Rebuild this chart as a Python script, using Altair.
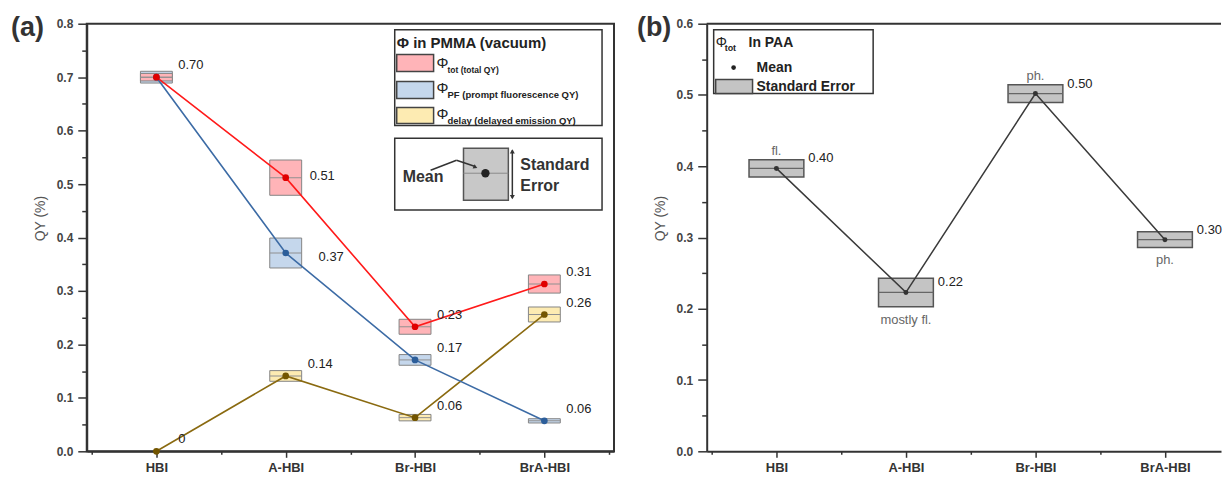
import json
import altair as alt
import pandas as pd

FONT = "Liberation Sans"

# ---------------- data ----------------
cats = ["HBI", "A-HBI", "Br-HBI", "BrA-HBI"]

# panel (a): PMMA (vacuum)
series_names = ["delay", "PF", "tot"]
tot_mean = [0.700, 0.512, 0.233, 0.313]
tot_se = [0.007, 0.033, 0.014, 0.017]
tot_lab = ["0.70", "0.51", "0.23", "0.31"]
pf_mean = [0.700, 0.371, 0.171, 0.057]
pf_se = [0.011, 0.028, 0.010, 0.004]
pf_lab = ["", "0.37", "0.17", "0.06"]
delay_mean = [0.000, 0.141, 0.063, 0.256]
delay_se = [0.000, 0.010, 0.006, 0.014]
delay_lab = ["0", "0.14", "0.06", "0.26"]

# panel (b): PAA
paa_mean = [0.397, 0.223, 0.502, 0.297]
paa_se = [0.012, 0.020, 0.0125, 0.011]
paa_lab = ["0.40", "0.22", "0.50", "0.30"]
paa_note = ["fl.", "mostly fl.", "ph.", "ph."]
paa_note_side = ["above", "below", "above", "below"]

# ---------------- tables ----------------
rows_a = []
for s, m, se, lab in zip(series_names,
                         [delay_mean, pf_mean, tot_mean],
                         [delay_se, pf_se, tot_se],
                         [delay_lab, pf_lab, tot_lab]):
    for i, c in enumerate(cats):
        rows_a.append(dict(series=s, cat=c, idx=i + 0.5, mean=m[i],
                           lo=m[i] - se[i], hi=m[i] + se[i], se=se[i], label=lab[i]))
df_a = pd.DataFrame(rows_a)

df_b = pd.DataFrame(dict(cat=cats, idx=[i + 0.5 for i in range(len(cats))],
                         mean=paa_mean,
                         lo=[m - s for m, s in zip(paa_mean, paa_se)],
                         hi=[m + s for m, s in zip(paa_mean, paa_se)],
                         label=paa_lab, note=paa_note, side=paa_note_side))

# ---------------- layout constants ----------------
W_A, H = 529, 429
W_B = 516
STEP_B = 132.5

fill_scale = alt.Scale(domain=["tot", "PF", "delay"], range=["#FFB4B8", "#C5D7EC", "#FDEBB2"])
line_scale = alt.Scale(domain=["tot", "PF", "delay"], range=["#FF1A1A", "#3C6BA5", "#8A6A10"])
pt_scale = alt.Scale(domain=["tot", "PF", "delay"], range=["#E00000", "#2C5E9A", "#735500"])


def y_axis(maxv):
    vals = [round(i * 0.05, 2) for i in range(int(round(maxv / 0.05)) + 1)]
    return alt.Axis(
        values=vals,
        labelExpr="round(datum.value*20) % 2 == 0 ? format(datum.value, '.1f') : ''",
        tickSize={"condition": {"test": "round(datum.value*20) % 2 == 1", "value": 5}, "value": 9},
        title="QY (%)", titleFont=FONT, titleFontSize=14, titleFontWeight="normal",
        titleColor="#555", titleY=195, titlePadding=9,
        labelFont=FONT, labelFontSize=12, labelFontWeight="bold", labelColor="#444",
        labelPadding=5, labelOverlap=False,
        domainColor="#333", domainWidth=2, tickColor="#333", tickWidth=1.5, grid=False)


def x_axis(nvals):
    vals = [i * 0.5 for i in range(nvals)]
    expr = "round(datum.value*2) % 2 == 1 ? " + json.dumps(cats) + "[floor(datum.value)] : ''"
    return alt.Axis(
        values=vals, labelExpr=expr, title=None, grid=False, labelOverlap=False,
        tickSize={"condition": {"test": "round(datum.value*2) % 2 == 1", "value": 6}, "value": 3},
        labelFont=FONT, labelFontSize=13, labelFontWeight="bold", labelColor="#333",
        labelPadding=4, labelFlush=False,
        domainColor="#333", domainWidth=2, tickColor="#333", tickWidth=1.5)


one = pd.DataFrame({"k": [0]})


def prect(x1, x2, y1, y2, fill, stroke, sw=1.5):
    return alt.Chart(one).mark_rect(fill=fill, stroke=stroke, strokeWidth=sw).encode(
        x=alt.value(x1), x2=alt.value(x2), y=alt.value(y1), y2=alt.value(y2))


def ptext(x, y, txt, size, weight="bold", color="#222", align="left"):
    return alt.Chart(one).mark_text(text=txt, fontSize=size, fontWeight=weight, color=color,
                                    align=align, baseline="middle", font=FONT).encode(
        x=alt.value(x), y=alt.value(y))


def prule(x1, y1, x2, y2, color="#333", sw=1.5):
    return alt.Chart(one).mark_rule(color=color, strokeWidth=sw).encode(
        x=alt.value(x1), y=alt.value(y1), x2=alt.value(x2), y2=alt.value(y2))


def ppoint(x, y, shape, size, color, angle=0):
    return alt.Chart(one).mark_point(shape=shape, size=size, filled=True, color=color,
                                     opacity=1, angle=angle, strokeWidth=0).encode(
        x=alt.value(x), y=alt.value(y))


# ---------------- panel (a) ----------------
xa_scale = alt.Scale(domain=[0, 4], nice=False, zero=False)
ya_scale = alt.Scale(domain=[0, 0.8], nice=False, zero=True)
xa = alt.X("idx:Q", scale=xa_scale, axis=x_axis(9))
ya_ax = y_axis(0.8)
ya = alt.Y("mean:Q", scale=ya_scale, axis=ya_ax)

base_a = alt.Chart(df_a)
boxes_a = base_a.transform_filter("datum.se > 0").mark_bar(
    width=32, stroke="#858585", strokeWidth=1).encode(
    x=xa, y=alt.Y("lo:Q", scale=ya_scale, axis=ya_ax), y2="hi:Q",
    fill=alt.Fill("series:N", scale=fill_scale, legend=None))
mid_a = base_a.transform_filter("datum.se > 0").mark_tick(
    orient="horizontal", size=32, thickness=1, color="#909090", opacity=1).encode(x=xa, y=ya)
lines_a = base_a.mark_line(strokeWidth=1.6).encode(
    x=xa, y=ya, stroke=alt.Stroke("series:N", scale=line_scale, legend=None), order="idx:Q")
pts_a = base_a.mark_circle(size=45, opacity=1).encode(
    x=xa, y=ya, color=alt.Color("series:N", scale=pt_scale, legend=None))

txt_kw = dict(align="left", baseline="middle", font=FONT, fontSize=13, color="#222")
lab_main = base_a.transform_filter(
    "datum.label != '' && !(datum.series == 'tot' && datum.cat == 'A-HBI') && !(datum.series == 'PF' && datum.cat == 'A-HBI')"
).mark_text(dx=22, dy=-12, **txt_kw).encode(x=xa, y=ya, text="label:N")
lab_51 = base_a.transform_filter("datum.series == 'tot' && datum.cat == 'A-HBI'").mark_text(
    dx=24, dy=-2, **txt_kw).encode(x=xa, y=ya, text="label:N")
lab_37 = base_a.transform_filter("datum.series == 'PF' && datum.cat == 'A-HBI'").mark_text(
    dx=33, dy=4, **txt_kw).encode(x=xa, y=ya, text="label:N")

# legend (a)
leg_a = [
    prect(309, 517, 6, 102, "white", "#333"),
    ptext(311, 19, "Φ in PMMA (vacuum)", 15),
    prect(311, 348, 31, 48, "#FFB4B8", "#444"),
    prect(311, 348, 58, 75, "#C5D7EC", "#444"),
    prect(311, 348, 84, 100, "#FDEBB2", "#444"),
    ptext(351, 39, "Φ", 15, weight="normal"),
    ptext(362, 46, "tot (total QY)", 8.5),
    ptext(351, 65, "Φ", 15, weight="normal"),
    ptext(362, 72, "PF (prompt fluorescence QY)", 9.5),
    ptext(351, 91, "Φ", 15, weight="normal"),
    ptext(362, 98, "delay (delayed emission QY)", 9.5),
    prect(309, 517, 115, 187, "white", "#333"),
    prect(378, 423, 125, 177, "#C8C8C8", "#555"),
    prule(378, 150, 423, 150, color="#8a8a8a", sw=1),
    ppoint(400, 150, "circle", 70, "#222"),
    ptext(317, 154, "Mean", 16, color="#333"),
    prule(345, 147, 371, 137, color="#333", sw=1.5),
    prule(371, 137, 389, 143, color="#333", sw=1.5),
    ppoint(390, 144, "triangle-right", 22, "#333", angle=25),
    prule(427, 127, 427, 175, color="#333", sw=1.5),
    ppoint(427, 128, "triangle-up", 25, "#333"),
    ppoint(427, 174, "triangle-down", 25, "#333"),
    ptext(435, 142, "Standard", 16, color="#333"),
    ptext(435, 163, "Error", 16, color="#333"),
    ptext(-76, 4, "(a)", 27, color="#333"),
]

panel_a = alt.layer(boxes_a, mid_a, lines_a, pts_a, lab_main, lab_51, lab_37, *leg_a).properties(
    width=W_A, height=H, view=alt.ViewBackground(stroke="#333", strokeWidth=2))

# ---------------- panel (b) ----------------
xb_scale = alt.Scale(domain=[0, W_B / STEP_B], nice=False, zero=False)
yb_scale = alt.Scale(domain=[0, 0.6], nice=False, zero=True)
xb = alt.X("idx:Q", scale=xb_scale, axis=x_axis(8))
yb_ax = y_axis(0.6)
yb = alt.Y("mean:Q", scale=yb_scale, axis=yb_ax)

base_b = alt.Chart(df_b)
boxes_b = base_b.mark_bar(width=55, fill="#C4C4C4", stroke="#555", strokeWidth=1.5).encode(
    x=xb, y=alt.Y("lo:Q", scale=yb_scale, axis=yb_ax), y2="hi:Q")
mid_b = base_b.mark_tick(orient="horizontal", size=55, thickness=1.2, color="#666", opacity=1).encode(
    x=xb, y=yb)
line_b = base_b.mark_line(strokeWidth=1.5, color="#3a3a3a").encode(x=xb, y=yb, order="idx:Q")
pts_b = base_b.mark_circle(size=25, color="#333", opacity=1).encode(x=xb, y=yb)
lab_b = base_b.mark_text(dx=32, dy=-10, **txt_kw).encode(x=xb, y=yb, text="label:N")
note_kw = dict(align="center", baseline="middle", font=FONT, fontSize=13, color="#666")
note_up = base_b.transform_filter("datum.side == 'above'").mark_text(dy=-9, **note_kw).encode(
    x=xb, y=alt.Y("hi:Q", scale=yb_scale, axis=yb_ax), text="note:N")
note_dn = base_b.transform_filter("datum.side == 'below'").mark_text(dy=13, **note_kw).encode(
    x=xb, y=alt.Y("lo:Q", scale=yb_scale, axis=yb_ax), text="note:N")

leg_b = [
    prule(0, 0, W_B, 0, color="#333", sw=2),
    prect(7, 167, 6, 70, "white", "#333"),
    ptext(9, 19, "Φ", 14, weight="normal"),
    ptext(18, 24, "tot", 9),
    ptext(42, 19, "In PAA", 14),
    ppoint(27, 44, "circle", 22, "#222"),
    ptext(50, 44, "Mean", 14),
    prect(9, 46, 56, 70, "#C4C4C4", "#444"),
    ptext(50, 64, "Standard Error", 14),
    ptext(-70, 4, "(b)", 27, color="#333"),
]

panel_b = alt.layer(boxes_b, mid_b, line_b, pts_b, lab_b, note_up, note_dn, *leg_b).properties(
    width=W_B, height=H, view=alt.ViewBackground(stroke="transparent", strokeWidth=0))

chart = alt.hconcat(panel_a, panel_b, spacing=22).properties(
    padding={"left": 2, "top": 4, "right": 0, "bottom": 0},
    background="white",
).resolve_scale(x="independent", y="independent")

chart.save("out.html", embed_options={"renderer": "svg", "actions": False})
